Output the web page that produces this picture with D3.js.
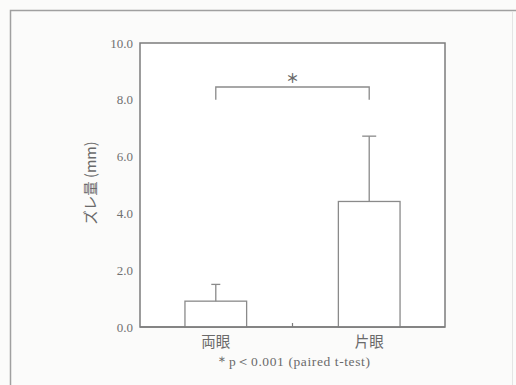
<!DOCTYPE html>
<html>
<head>
<meta charset="utf-8">
<script src="https://cdn.jsdelivr.net/npm/d3@7"></script>
<style>
  html, body { margin: 0; padding: 0; background: #fbfbfa; }
  svg { display: block; }
</style>
</head>
<body>
<svg id="chart" width="516" height="385"></svg>
<script>
// Displacement (mm): mean and mean + SD for each group
const categories = ["両眼", "片眼"];
const means = [0.91, 4.42];
const upperErrors = [1.5, 6.72];
const yTicks = [0, 2, 4, 6, 8, 10];
const yLabel = "ズレ量 (mm)";
const sigMark = "＊";
const footnote = "＊p＜0.001 (paired t-test)";

const svg = d3.select("#chart");
const ink = "#7c7c7c";
const serif = "'Liberation Serif', 'DejaVu Serif', serif";
const cjk = "'Noto Sans CJK JP', sans-serif";

// Outer page frame
svg.append("path")
  .attr("d", "M10.5,385 V10.5 H516")
  .attr("fill", "none").attr("stroke", "#a0a0a0").attr("stroke-width", 1.5);
svg.append("line")
  .attr("x1", 512.5).attr("x2", 512.5).attr("y1", 12).attr("y2", 385)
  .attr("stroke", "#e4e4e4").attr("stroke-width", 1);

const plot = { left: 140, right: 445, top: 43, bottom: 327 };

const x = d3.scaleBand()
  .domain(categories)
  .range([plot.left, plot.right])
  .paddingInner(0.598)
  .paddingOuter(0.293);

const y = d3.scaleLinear()
  .domain([0, 10])
  .range([plot.bottom, plot.top]);

// Plot area
svg.append("rect")
  .attr("x", plot.left).attr("y", plot.top)
  .attr("width", plot.right - plot.left).attr("height", plot.bottom - plot.top)
  .attr("fill", "#ffffff").attr("stroke", ink).attr("stroke-width", 1.5);

// Y axis tick labels
const yAxis = d3.axisLeft(y)
  .tickValues(yTicks)
  .tickFormat(d3.format(".1f"))
  .tickSize(0)
  .tickPadding(7);
const gy = svg.append("g")
  .attr("transform", `translate(${plot.left},0)`)
  .call(yAxis);
gy.select(".domain").remove();
gy.selectAll("text")
  .attr("font-family", serif).attr("font-size", 13).attr("fill", "#707070");

// Bars
svg.append("g").selectAll("rect")
  .data(categories)
  .join("rect")
  .attr("x", d => x(d))
  .attr("y", (d, i) => y(means[i]))
  .attr("width", x.bandwidth())
  .attr("height", (d, i) => y(0) - y(means[i]))
  .attr("fill", "#ffffff")
  .attr("stroke", "#8a8a8a")
  .attr("stroke-width", 1.3);

// Error bars (upper only)
const capHalf = [4.5, 7];
const eb = svg.append("g").attr("stroke", "#8a8a8a").attr("stroke-width", 1.3);
categories.forEach((c, i) => {
  const cx = x(c) + x.bandwidth() / 2;
  eb.append("line")
    .attr("x1", cx).attr("x2", cx)
    .attr("y1", y(means[i])).attr("y2", y(upperErrors[i]));
  eb.append("line")
    .attr("x1", cx - capHalf[i]).attr("x2", cx + capHalf[i])
    .attr("y1", y(upperErrors[i])).attr("y2", y(upperErrors[i]));
});

// Baseline redrawn over bar bottoms, plus center tick
svg.append("line")
  .attr("x1", plot.left).attr("x2", plot.right)
  .attr("y1", y(0)).attr("y2", y(0))
  .attr("stroke", ink).attr("stroke-width", 1.5);
const midX = (plot.left + plot.right) / 2;
svg.append("line")
  .attr("x1", midX).attr("x2", midX)
  .attr("y1", y(0)).attr("y2", y(0) - 4)
  .attr("stroke", ink).attr("stroke-width", 1.2);

// Significance bracket
const bx1 = x(categories[0]) + x.bandwidth() / 2;
const bx2 = x(categories[1]) + x.bandwidth() / 2;
svg.append("path")
  .attr("d", `M${bx1},${y(8.0)} V${y(8.45)} H${bx2} V${y(8.0)}`)
  .attr("fill", "none").attr("stroke", "#8a8a8a").attr("stroke-width", 1.3);
svg.append("text")
  .attr("x", (bx1 + bx2) / 2).attr("y", y(8.45) - 4)
  .attr("text-anchor", "middle")
  .attr("font-family", cjk).attr("font-size", 13).attr("font-weight", "bold").attr("fill", "#6a6a6a")
  .text(sigMark);

// X category labels
svg.append("g").selectAll("text")
  .data(categories)
  .join("text")
  .attr("x", d => x(d) + x.bandwidth() / 2)
  .attr("y", 347)
  .attr("text-anchor", "middle")
  .attr("font-family", cjk).attr("font-size", 14.5).attr("fill", "#6a6a6a")
  .text(d => d);

// Footnote
svg.append("text")
  .attr("x", midX).attr("y", 366)
  .attr("text-anchor", "middle")
  .attr("font-family", serif).attr("font-size", 13.5).attr("letter-spacing", 0.6)
  .attr("fill", "#6a6a6a")
  .text(footnote);

// Y axis title
svg.append("text")
  .attr("transform", `translate(96,${(plot.top + plot.bottom) / 2 - 2}) rotate(-90)`)
  .attr("text-anchor", "middle")
  .attr("font-family", cjk).attr("font-size", 14.5).attr("fill", "#6a6a6a")
  .text(yLabel);
</script>
</body>
</html>
